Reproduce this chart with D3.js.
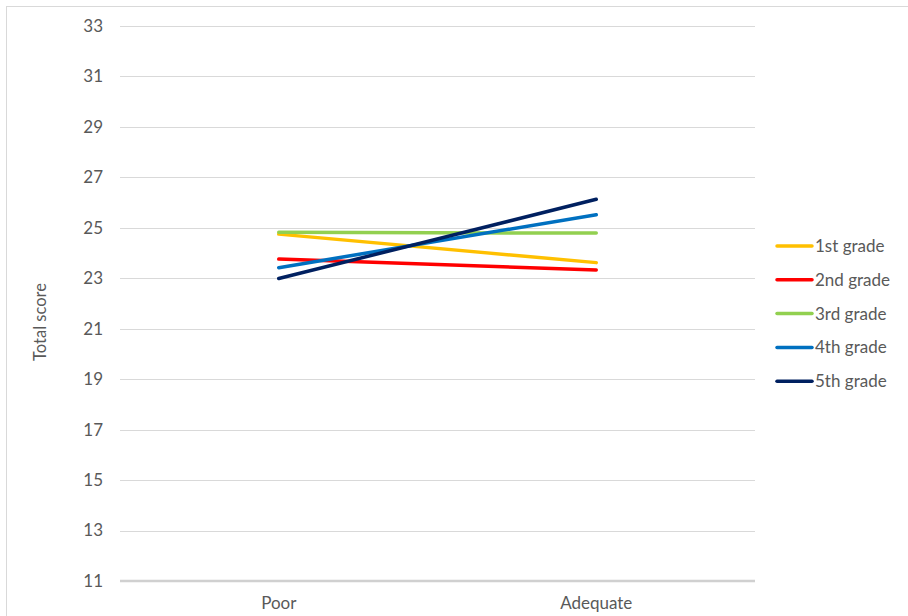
<!DOCTYPE html>
<html>
<head>
<meta charset="utf-8">
<script src="https://cdn.jsdelivr.net/npm/d3@7"></script>
<style>
  html, body { margin: 0; padding: 0; background: #fff; }
  svg { display: block; }
  text { font-family: Lato, "Open Sans", sans-serif; fill: #595959; }
</style>
</head>
<body>
<svg id="chart" width="908" height="616"></svg>
<script>
// Categories on the x axis
const categories = ["Poor", "Adequate"];

// Series: one line per grade, total score per category
const seriesNames = ["1st grade", "2nd grade", "3rd grade", "4th grade", "5th grade"];
const seriesColors = ["#FFC000", "#FF0000", "#92D050", "#0070C0", "#002060"];
const grade1 = [24.75, 23.62];
const grade2 = [23.76, 23.33];
const grade3 = [24.82, 24.79];
const grade4 = [23.42, 25.52];
const grade5 = [22.99, 26.13];

// Y axis ticks
const yTicks = [11, 13, 15, 17, 19, 21, 23, 25, 27, 29, 31, 33];
const yTitle = "Total score";

const seriesValues = [grade1, grade2, grade3, grade4, grade5];
const series = seriesNames.map((name, i) => ({
  name, color: seriesColors[i], values: seriesValues[i]
}));

const svg = d3.select("#chart");
const font = "Lato, 'Open Sans', sans-serif";

// Outer frame
svg.append("rect")
  .attr("x", 6.5).attr("y", 6.5)
  .attr("width", 920).attr("height", 640)
  .attr("fill", "none").attr("stroke", "#d9d9d9").attr("stroke-width", 1);

const plot = { left: 120, right: 755, top: 26, bottom: 581 };

const x = d3.scaleBand().domain(categories).range([plot.left, plot.right]);
const y = d3.scaleLinear().domain([11, 33]).range([plot.bottom, plot.top]);

// Horizontal gridlines
svg.append("g")
  .selectAll("line")
  .data(yTicks.filter(t => t !== 11))
  .join("line")
  .attr("x1", plot.left).attr("x2", plot.right)
  .attr("y1", d => Math.round(y(d)) + 0.5).attr("y2", d => Math.round(y(d)) + 0.5)
  .attr("stroke", "#d9d9d9").attr("stroke-width", 1);

// Baseline
svg.append("line")
  .attr("x1", plot.left).attr("x2", plot.right)
  .attr("y1", y(11)).attr("y2", y(11))
  .attr("stroke", "#d0d0d0").attr("stroke-width", 2.5);

// Y axis labels
const yAxis = d3.axisLeft(y).tickValues(yTicks).tickSize(0).tickPadding(0);
const yg = svg.append("g").attr("transform", `translate(${plot.left - 17},0)`).call(yAxis);
yg.select(".domain").remove();
yg.selectAll("text")
  .style("font-family", font)
  .style("font-size", "17px").attr("fill", "#595959");

// X axis labels
const xAxis = d3.axisBottom(x).tickSize(0).tickPadding(0);
const xg = svg.append("g").attr("transform", `translate(0,${plot.bottom + 16})`).call(xAxis);
xg.select(".domain").remove();
xg.selectAll("text")
  .style("font-family", font)
  .style("font-size", "17px").attr("fill", "#595959");

// Y axis title
svg.append("text")
  .attr("transform", `translate(46,322) rotate(-90)`)
  .attr("text-anchor", "middle")
  .style("font-size", "16.5px")
  .text(yTitle);

// Series lines
const line = d3.line()
  .x((d, i) => x(categories[i]) + x.bandwidth() / 2)
  .y(d => y(d));

svg.append("g")
  .selectAll("path")
  .data(series)
  .join("path")
  .attr("d", d => line(d.values))
  .attr("fill", "none")
  .attr("stroke", d => d.color)
  .attr("stroke-width", 3.5)
  .attr("stroke-linecap", "round");

// Legend
const legend = svg.append("g").attr("transform", "translate(777,246)");
const item = legend.selectAll("g")
  .data(series)
  .join("g")
  .attr("transform", (d, i) => `translate(0,${i * 33.8})`);
item.append("line")
  .attr("x1", 0).attr("x2", 35).attr("y1", 0).attr("y2", 0)
  .attr("stroke", d => d.color).attr("stroke-width", 3.5)
  .attr("stroke-linecap", "round");
item.append("text")
  .attr("x", 38).attr("y", 0).attr("dy", "0.35em")
  .style("font-size", "17px")
  .text(d => d.name);
</script>
</body>
</html>
